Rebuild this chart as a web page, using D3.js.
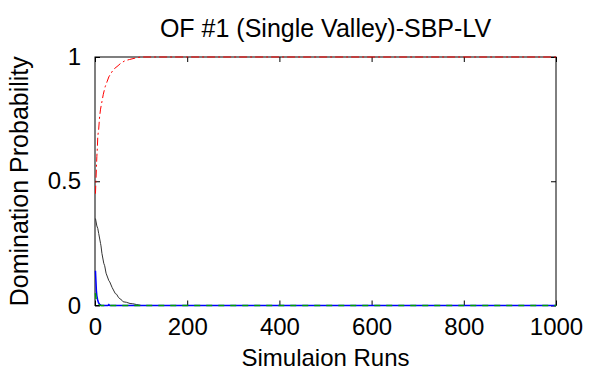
<!DOCTYPE html>
<html>
<head>
<meta charset="utf-8">
<script src="https://cdn.jsdelivr.net/npm/d3@7"></script>
<style>
  body { margin: 0; background: #fff; }
  svg { display: block; font-family: "Liberation Sans", Arial, sans-serif; }
  .axis path { display: none; }
  .axis line { stroke: #000; }
  .axis text { fill: #000; font-size: 24px; }
</style>
</head>
<body>
<svg id="chart" width="589" height="375"></svg>
<script>
var xTicks = [0, 200, 400, 600, 800, 1000]
var yTicks = [0, 0.5, 1]

// [run, probability]
var redRuns = [1, 2, 3, 4, 5, 6, 8, 10, 12, 15, 18, 22, 26, 30, 35, 40, 50, 56, 65, 75, 90, 100, 1000]
var redVals = [0.45, 0.5, 0.55, 0.6, 0.63, 0.68, 0.71, 0.76, 0.79, 0.82, 0.85, 0.88, 0.9, 0.92, 0.935, 0.95, 0.965, 0.975, 0.985, 0.99, 0.997, 1, 1]

var blackRuns = [1, 4, 6, 8, 12, 13, 15, 19, 21, 24, 30, 32, 37, 44, 47, 51, 59, 61, 68, 76, 82, 90, 100, 1000]
var blackVals = [0.35, 0.32, 0.31, 0.29, 0.25, 0.24, 0.21, 0.17, 0.16, 0.13, 0.1, 0.095, 0.073, 0.048, 0.045, 0.032, 0.02, 0.015, 0.013, 0.008, 0.007, 0.004, 0, 0]

var blueRuns = [1, 2, 3, 4, 6, 8, 10, 14, 28, 30, 32, 1000]
var blueVals = [0.14, 0.1, 0.06, 0.04, 0.02, 0.01, 0.005, 0, 0, 0.004, 0, 0]

var greenRuns = [1, 2, 3, 5, 8, 12, 1000]
var greenVals = [0.05, 0.03, 0.02, 0.01, 0.005, 0, 0]

var margin = { left: 95, right: 33, top: 57, bottom: 69.5 }
var svg = d3.select('#chart'),
  W = +svg.attr('width'),
  H = +svg.attr('height'),
  w = W - margin.left - margin.right,
  h = H - margin.top - margin.bottom

var x = d3.scaleLinear().domain([0, 1000]).range([0, w])
var y = d3.scaleLinear().domain([0, 1]).range([h, 0])

var g = svg.append('g').attr('transform', 'translate(' + margin.left + ',' + margin.top + ')')

// axes, ticks pointing inward like matlab
g.append('g').attr('class', 'axis').attr('transform', 'translate(0,' + h + ')')
  .call(d3.axisBottom(x).tickValues(xTicks).tickSizeInner(-5).tickSizeOuter(0).tickPadding(12)
    .tickFormat(d3.format('d')))
g.append('g').attr('class', 'axis')
  .call(d3.axisTop(x).tickValues(xTicks).tickSizeInner(-5).tickSizeOuter(0).tickFormat(''))
g.append('g').attr('class', 'axis')
  .call(d3.axisLeft(y).tickValues(yTicks).tickSizeInner(-5).tickSizeOuter(0).tickPadding(14)
    .tickFormat(function(d) { return d === 0.5 ? '0.5' : d }))
g.append('g').attr('class', 'axis').attr('transform', 'translate(' + w + ',0)')
  .call(d3.axisRight(y).tickValues(yTicks).tickSizeInner(-5).tickSizeOuter(0).tickFormat(''))

g.append('rect')
  .attr('width', w).attr('height', h)
  .attr('fill', 'none').attr('stroke', '#000').attr('stroke-width', 1)

var line = d3.line()
  .x(function(d) { return x(d[0]) })
  .y(function(d) { return y(d[1]) })

var series = [
  { runs: blackRuns, vals: blackVals, color: '#333', dash: null, width: 1 },
  { runs: redRuns, vals: redVals, color: '#ff0000', dash: '8,3,2,3', width: 1 },
  { runs: blueRuns, vals: blueVals, color: '#0000ff', dash: null, width: 1.5 },
  { runs: greenRuns, vals: greenVals, color: '#00a000', dash: '6,6', width: 1.5 }
]
series.forEach(function(s) {
  var pts = s.runs.map(function(r, i) { return [r, s.vals[i]] })
  g.append('path')
    .attr('d', line(pts))
    .attr('fill', 'none')
    .attr('stroke', s.color)
    .attr('stroke-width', s.width)
    .attr('stroke-dasharray', s.dash)
})

// title and labels
svg.append('text')
  .attr('x', margin.left + w / 2).attr('y', 37)
  .attr('text-anchor', 'middle').attr('font-size', 25)
  .text('OF #1 (Single Valley)-SBP-LV')
svg.append('text')
  .attr('x', margin.left + w / 2).attr('y', 366)
  .attr('text-anchor', 'middle').attr('font-size', 24)
  .text('Simulaion Runs')
svg.append('text')
  .attr('transform', 'translate(28,' + (margin.top + h / 2) + ') rotate(-90)')
  .attr('text-anchor', 'middle').attr('font-size', 25)
  .text('Domination Probability')
</script>
</body>
</html>
